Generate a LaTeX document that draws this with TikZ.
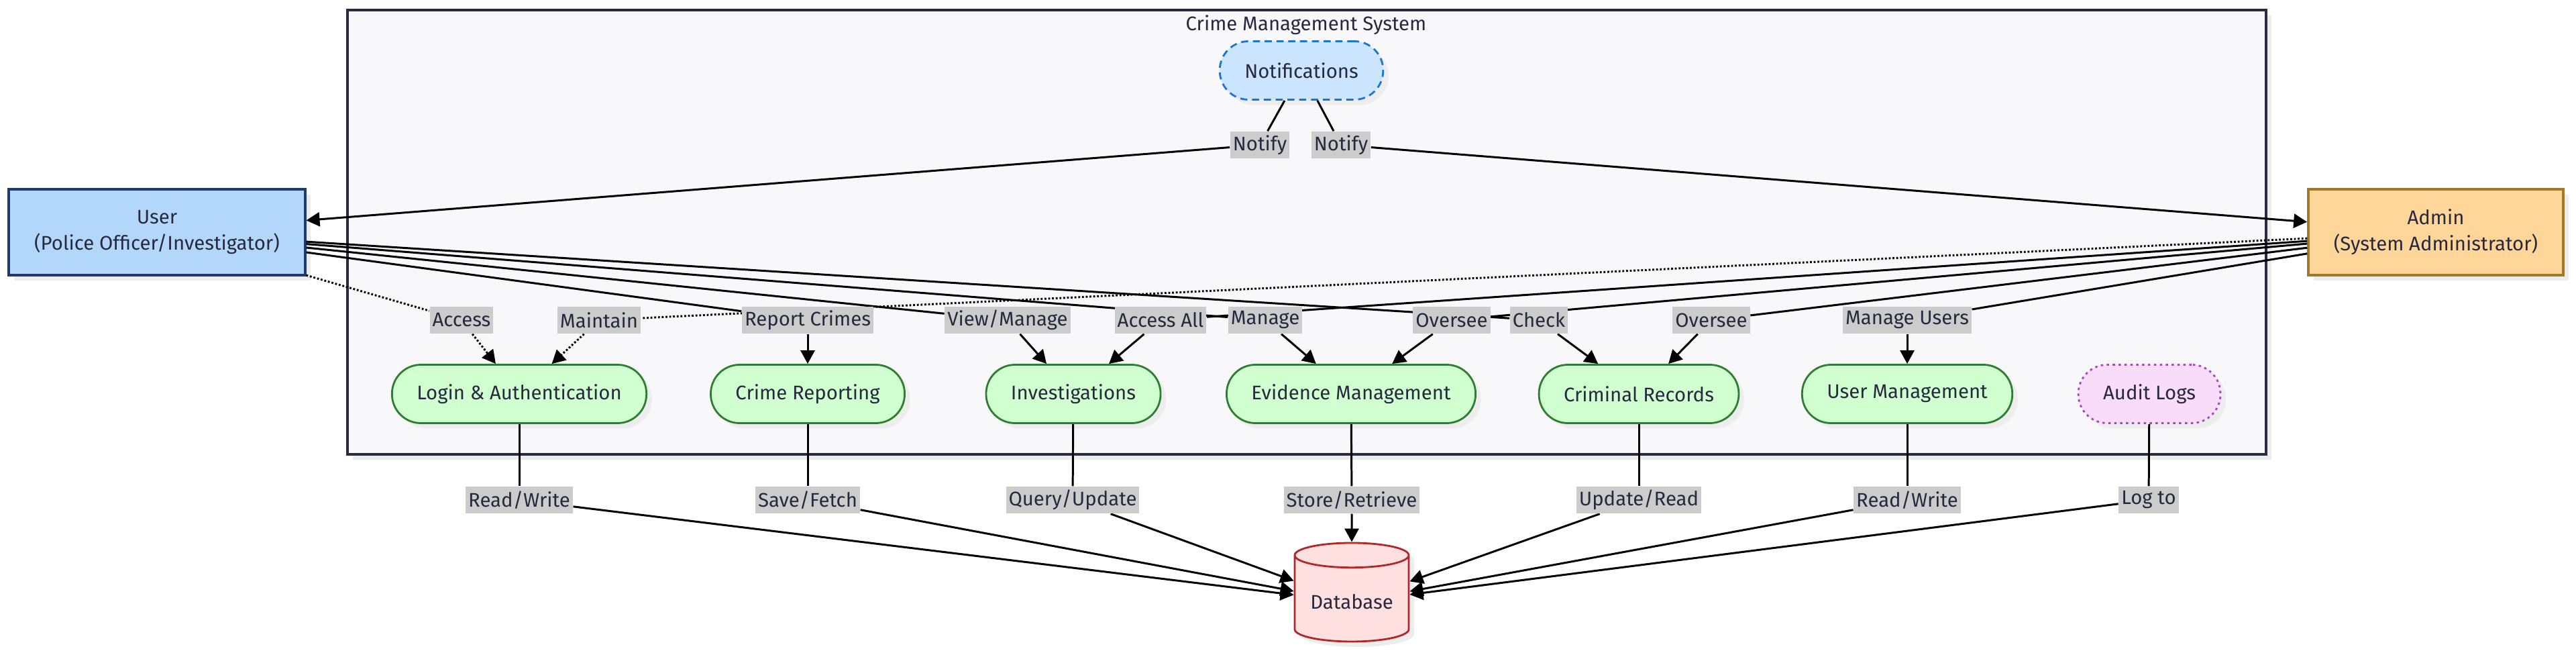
\documentclass[tikz,border=0pt]{standalone}
\usepackage{fontspec}
\setmainfont{Fira Sans}
\usetikzlibrary{positioning,shapes.geometric,arrows.meta,shadows}
\definecolor{txtcol}{RGB}{40,40,62}
\definecolor{framecol}{RGB}{42,42,64}
\definecolor{framefill}{RGB}{248,248,250}
\definecolor{userfill}{RGB}{179,215,250}
\definecolor{userdraw}{RGB}{31,58,108}
\definecolor{adminfill}{RGB}{255,214,153}
\definecolor{admindraw}{RGB}{160,122,42}
\definecolor{compfill}{RGB}{208,255,208}
\definecolor{compdraw}{RGB}{46,125,50}
\definecolor{notefill}{RGB}{204,229,255}
\definecolor{notedraw}{RGB}{25,118,210}
\definecolor{logfill}{RGB}{248,220,250}
\definecolor{logdraw}{RGB}{171,71,188}
\definecolor{dbfill}{RGB}{255,224,224}
\definecolor{dbdraw}{RGB}{178,40,40}
\definecolor{lblfill}{RGB}{204,204,204}
\pgfdeclarelayer{front}
\pgfsetlayers{main,front}
\tikzset{
  shade/.style={drop shadow={shadow xshift=0.08cm, shadow yshift=-0.08cm, fill=black!7, opacity=1}},
  sysbox/.style={rectangle, draw=framecol, line width=1.1pt, fill=framefill, shade},
  actor/.style={rectangle, line width=1pt, align=center, inner xsep=0.38cm, minimum height=1.28cm, shade},
  comp/.style={rectangle, rounded corners=0.43cm, draw=compdraw, line width=0.8pt, fill=compfill, inner xsep=0.37cm, minimum height=0.87cm, shade},
  notebox/.style={comp, draw=notedraw, fill=notefill, dash pattern=on 3pt off 2pt},
  logbox/.style={comp, draw=logdraw, fill=logfill, dash pattern=on 1pt off 1.5pt},
  dbnode/.style={cylinder, shape border rotate=90, aspect=0.25, draw=dbdraw, line width=0.8pt, fill=dbfill, minimum width=1.70cm, minimum height=1.47cm, shade},
  elabel/.style={rectangle, fill=lblfill, inner xsep=0.04cm, inner ysep=0cm, minimum height=0.40cm},
  link/.style={line width=0.85pt, draw=black},
  dlink/.style={link, dash pattern=on 0.028cm off 0.028cm},
  tip/.style={-{Triangle[length=0.2cm,width=0.21cm]}}
}
\begin{document}
\begin{tikzpicture}[font=\fontsize{8.35}{11}\selectfont, text=txtcol]
\useasboundingbox (0,0) rectangle (38.4,9.75);
% system frame
\node[sysbox, minimum width=28.60cm, minimum height=6.62cm] (sys) at (19.48,6.29) {};
\node (systitle) at (19.47,9.38) {Crime Management System};
% actors
\node[actor, draw=userdraw, fill=userfill] (user) at (2.34,6.29) {User\\(Police Officer/Investigator)};
\node[actor, draw=admindraw, fill=adminfill] (admin) at (36.31,6.29) {Admin\\(System Administrator)};
% modules
\node[notebox] (notif) at (19.40,8.70) {Notifications};
\node[comp] (login) at (7.74,3.88) {Login \& Authentication};
\node[comp] (report) at (12.04,3.88) {Crime Reporting};
\node[comp] (invest) at (16.00,3.88) {Investigations};
\node[comp] (evid) at (20.14,3.88) {Evidence Management};
\node[comp] (crim) at (24.43,3.88) {Criminal Records};
\node[comp] (umgmt) at (28.43,3.88) {User Management};
\node[logbox] (audit) at (32.04,3.88) {Audit Logs};
\node[dbnode] (db) at (20.15,0.78) {Database};
% edge labels
\begin{pgfonlayer}{front}
\node[elabel] (lNotA) at (18.78,7.59) {Notify};
\node[elabel] (lNotB) at (19.99,7.59) {Notify};
\node[elabel] (lAcc) at (6.88,4.98) {Access};
\node[elabel] (lMaint) at (8.93,4.98) {Maintain};
\node[elabel] (lRep) at (12.04,4.98) {Report Crimes};
\node[elabel] (lView) at (15.02,4.98) {View/Manage};
\node[elabel] (lAll) at (17.30,4.98) {Access All};
\node[elabel] (lMan) at (18.86,4.98) {Manage};
\node[elabel] (lOvA) at (21.64,4.98) {Oversee};
\node[elabel] (lChk) at (22.94,4.98) {Check};
\node[elabel] (lOvB) at (25.51,4.98) {Oversee};
\node[elabel] (lUsers) at (28.43,4.98) {Manage Users};
\node[elabel] (lRW) at (7.74,2.30) {Read/Write};
\node[elabel] (lSF) at (12.04,2.30) {Save/Fetch};
\node[elabel] (lQU) at (15.99,2.30) {Query/Update};
\node[elabel] (lSR) at (20.15,2.30) {Store/Retrieve};
\node[elabel] (lUR) at (24.43,2.30) {Update/Read};
\node[elabel] (lRW2) at (28.43,2.30) {Read/Write};
\node[elabel] (lLog) at (32.03,2.30) {Log to};
\end{pgfonlayer}
% notifications
\draw[link] (notif) -- (lNotA);
\draw[link, tip] (lNotA) -- (user);
\draw[link] (notif) -- (lNotB);
\draw[link, tip] (lNotB) -- (admin);
% user
\draw[dlink] (user) -- (lAcc);
\draw[dlink, tip] (lAcc) -- (login);
\draw[link] (user) -- (lRep);
\draw[link, tip] (lRep) -- (report);
\draw[link] (user) -- (lView);
\draw[link, tip] (lView) -- (invest);
\draw[link] (user) -- (lMan);
\draw[link, tip] (lMan) -- (evid);
\draw[link] (user) -- (lChk);
\draw[link, tip] (lChk) -- (crim);
% admin
\draw[dlink] (admin) -- (lMaint);
\draw[dlink, tip] (lMaint) -- (login);
\draw[link] (admin) -- (lAll);
\draw[link, tip] (lAll) -- (invest);
\draw[link] (admin) -- (lOvA);
\draw[link, tip] (lOvA) -- (evid);
\draw[link] (admin) -- (lOvB);
\draw[link, tip] (lOvB) -- (crim);
\draw[link] (admin) -- (lUsers);
\draw[link, tip] (lUsers) -- (umgmt);
% database
\draw[link] (login) -- (lRW);
\draw[link, tip] (lRW) -- (db);
\draw[link] (report) -- (lSF);
\draw[link, tip] (lSF) -- (db);
\draw[link] (invest) -- (lQU);
\draw[link, tip] (lQU) -- (db);
\draw[link] (evid) -- (lSR);
\draw[link, tip] (lSR) -- (db);
\draw[link] (crim) -- (lUR);
\draw[link, tip] (lUR) -- (db);
\draw[link] (umgmt) -- (lRW2);
\draw[link, tip] (lRW2) -- (db);
\draw[link] (audit) -- (lLog);
\draw[link, tip] (lLog) -- (db);
\end{tikzpicture}
\end{document}
